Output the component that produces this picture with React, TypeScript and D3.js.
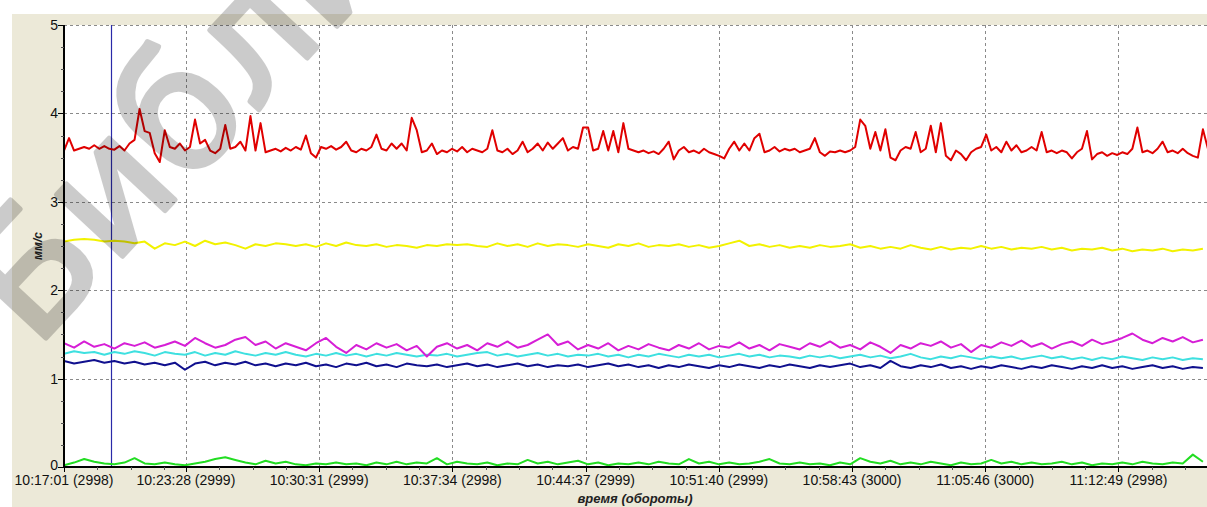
import { useMemo } from "react";
import * as d3 from "d3";

const WIDTH = 1207;
const HEIGHT = 507;
const M = { left: 64, top: 25, right: 0, bottom: 40 };

const START_TIME = "10:17:01";
const END_TIME = "11:17:30";
const CURSOR_TIME = "10:19:30";
const RED_STEP = 16; // seconds between samples
const STEP = 32;

const tickTimes = ["10:17:01", "10:23:28", "10:30:31", "10:37:34", "10:44:37", "10:51:40", "10:58:43", "11:05:46", "11:12:49"];
const tickRevs = [2998, 2999, 2999, 2998, 2999, 2999, 3000, 3000, 2998];
const yTicks = [0, 1, 2, 3, 4, 5];

const red = [
  3.58, 3.72, 3.58, 3.60, 3.62, 3.60, 3.64, 3.60, 3.63, 3.60, 3.59, 3.63, 3.58, 3.66, 3.70, 4.05, 3.80, 3.78, 3.55, 3.45,
  3.81, 3.62, 3.60, 3.66, 3.58, 3.62, 3.93, 3.66, 3.70, 3.58, 3.55, 3.60, 3.87, 3.60, 3.62, 3.68, 3.58, 3.97, 3.58, 3.89,
  3.56, 3.58, 3.60, 3.57, 3.61, 3.58, 3.62, 3.59, 3.75, 3.55, 3.50, 3.62, 3.60, 3.63, 3.59, 3.62, 3.68, 3.58, 3.56, 3.60,
  3.58, 3.62, 3.76, 3.60, 3.58, 3.66, 3.60, 3.66, 3.58, 3.95, 3.81, 3.56, 3.58, 3.66, 3.54, 3.58, 3.56, 3.60, 3.57, 3.62,
  3.56, 3.60, 3.58, 3.56, 3.60, 3.81, 3.58, 3.56, 3.60, 3.54, 3.58, 3.68, 3.56, 3.60, 3.66, 3.58, 3.67, 3.60, 3.66, 3.72,
  3.58, 3.62, 3.60, 3.84, 3.84, 3.58, 3.60, 3.80, 3.58, 3.80, 3.56, 3.89, 3.60, 3.58, 3.56, 3.58, 3.55, 3.57, 3.54, 3.60,
  3.68, 3.48, 3.58, 3.62, 3.56, 3.58, 3.55, 3.60, 3.56, 3.54, 3.52, 3.49, 3.60, 3.68, 3.58, 3.66, 3.58, 3.72, 3.77, 3.56,
  3.58, 3.62, 3.57, 3.60, 3.58, 3.60, 3.56, 3.58, 3.60, 3.72, 3.56, 3.52, 3.57, 3.56, 3.58, 3.56, 3.58, 3.62, 3.93, 3.86,
  3.60, 3.79, 3.58, 3.82, 3.50, 3.47, 3.58, 3.62, 3.60, 3.79, 3.56, 3.60, 3.86, 3.56, 3.89, 3.52, 3.47, 3.58, 3.54, 3.47,
  3.56, 3.60, 3.62, 3.76, 3.58, 3.62, 3.56, 3.68, 3.58, 3.64, 3.56, 3.58, 3.62, 3.58, 3.79, 3.56, 3.58, 3.55, 3.58, 3.56,
  3.49, 3.56, 3.60, 3.80, 3.48, 3.54, 3.56, 3.52, 3.55, 3.53, 3.56, 3.54, 3.60, 3.84, 3.56, 3.58, 3.55, 3.60, 3.68, 3.56,
  3.58, 3.55, 3.60, 3.55, 3.52, 3.50, 3.82, 3.60,
];

const yellow = [
  2.55, 2.57, 2.58, 2.57, 2.55, 2.56, 2.55, 2.53, 2.55, 2.47, 2.53, 2.51, 2.55, 2.50, 2.56, 2.52, 2.54, 2.51, 2.47, 2.52,
  2.50, 2.53, 2.52, 2.50, 2.52, 2.49, 2.53, 2.50, 2.54, 2.51, 2.50, 2.52, 2.49, 2.51, 2.50, 2.48, 2.51, 2.50, 2.52, 2.51,
  2.52, 2.50, 2.49, 2.53, 2.50, 2.52, 2.49, 2.53, 2.50, 2.52, 2.51, 2.49, 2.52, 2.50, 2.48, 2.52, 2.50, 2.53, 2.49, 2.51,
  2.50, 2.52, 2.49, 2.51, 2.48, 2.50, 2.53, 2.56, 2.50, 2.52, 2.49, 2.51, 2.48, 2.50, 2.48, 2.51, 2.49, 2.50, 2.52, 2.48,
  2.50, 2.47, 2.49, 2.47, 2.51, 2.48, 2.46, 2.49, 2.46, 2.48, 2.47, 2.50, 2.47, 2.49, 2.46, 2.48, 2.47, 2.49, 2.46, 2.48,
  2.45, 2.47, 2.46, 2.48, 2.45, 2.47, 2.44, 2.46, 2.45, 2.47, 2.44, 2.46, 2.45, 2.47,
];

const magenta = [
  1.40, 1.35, 1.42, 1.36, 1.39, 1.34, 1.40, 1.37, 1.41, 1.35, 1.38, 1.42, 1.37, 1.46, 1.40, 1.35, 1.38, 1.44, 1.47, 1.38,
  1.42, 1.34, 1.40, 1.36, 1.32, 1.40, 1.46, 1.36, 1.29, 1.38, 1.33, 1.40, 1.35, 1.39, 1.32, 1.37, 1.25, 1.36, 1.40, 1.34,
  1.38, 1.32, 1.40, 1.36, 1.42, 1.35, 1.38, 1.44, 1.50, 1.38, 1.42, 1.33, 1.38, 1.34, 1.40, 1.32, 1.37, 1.33, 1.39, 1.35,
  1.32, 1.38, 1.34, 1.40, 1.33, 1.37, 1.35, 1.41, 1.34, 1.38, 1.32, 1.39, 1.36, 1.33, 1.40, 1.36, 1.42, 1.35, 1.38, 1.33,
  1.41, 1.36, 1.29, 1.38, 1.34, 1.40, 1.37, 1.42, 1.35, 1.39, 1.30, 1.38, 1.35, 1.41, 1.37, 1.43, 1.36, 1.40, 1.34, 1.39,
  1.42, 1.37, 1.44, 1.39, 1.42, 1.46, 1.51, 1.44, 1.40, 1.46, 1.42, 1.47, 1.41, 1.44,
];

const cyan = [
  1.28, 1.31, 1.29, 1.30, 1.27, 1.30, 1.28, 1.31, 1.29, 1.26, 1.30, 1.28, 1.27, 1.30, 1.26, 1.29, 1.27, 1.31, 1.28, 1.26,
  1.29, 1.27, 1.30, 1.27, 1.25, 1.28, 1.26, 1.29, 1.26, 1.28, 1.25, 1.28, 1.26, 1.29, 1.27, 1.25, 1.27, 1.26, 1.28, 1.25,
  1.27, 1.29, 1.30, 1.26, 1.28, 1.25, 1.27, 1.29, 1.26, 1.28, 1.25, 1.27, 1.26, 1.28, 1.25, 1.27, 1.24, 1.27, 1.25, 1.28,
  1.26, 1.24, 1.27, 1.25, 1.27, 1.24, 1.26, 1.28, 1.25, 1.27, 1.24, 1.26, 1.25, 1.23, 1.26, 1.24, 1.26, 1.23, 1.25, 1.27,
  1.24, 1.26, 1.23, 1.25, 1.28, 1.24, 1.22, 1.25, 1.23, 1.26, 1.24, 1.22, 1.25, 1.23, 1.25, 1.22, 1.24, 1.26, 1.23, 1.25,
  1.22, 1.24, 1.21, 1.24, 1.22, 1.25, 1.23, 1.21, 1.24, 1.22, 1.24, 1.21, 1.23, 1.22,
];

const navy = [
  1.20, 1.17, 1.19, 1.21, 1.18, 1.20, 1.17, 1.19, 1.16, 1.18, 1.15, 1.18, 1.10, 1.17, 1.19, 1.15, 1.18, 1.16, 1.19, 1.15,
  1.17, 1.14, 1.17, 1.15, 1.18, 1.14, 1.16, 1.13, 1.17, 1.15, 1.18, 1.14, 1.16, 1.13, 1.17, 1.15, 1.14, 1.16, 1.13, 1.15,
  1.17, 1.14, 1.16, 1.13, 1.15, 1.17, 1.14, 1.16, 1.13, 1.15, 1.14, 1.16, 1.13, 1.15, 1.17, 1.14, 1.16, 1.13, 1.15, 1.12,
  1.15, 1.13, 1.16, 1.14, 1.12, 1.15, 1.13, 1.16, 1.14, 1.12, 1.15, 1.13, 1.16, 1.14, 1.12, 1.15, 1.13, 1.15, 1.17, 1.13,
  1.15, 1.12, 1.20, 1.14, 1.12, 1.15, 1.13, 1.16, 1.12, 1.14, 1.11, 1.14, 1.12, 1.15, 1.13, 1.11, 1.14, 1.12, 1.15, 1.13,
  1.11, 1.14, 1.12, 1.15, 1.12, 1.14, 1.11, 1.13, 1.15, 1.12, 1.14, 1.11, 1.13, 1.12,
];

const green = [
  0.02, 0.05, 0.09, 0.06, 0.04, 0.03, 0.05, 0.10, 0.04, 0.03, 0.05, 0.03, 0.02, 0.04, 0.06, 0.09, 0.11, 0.08, 0.05, 0.03,
  0.07, 0.04, 0.06, 0.03, 0.02, 0.04, 0.03, 0.05, 0.03, 0.04, 0.02, 0.05, 0.03, 0.06, 0.03, 0.05, 0.04, 0.10, 0.03, 0.06,
  0.04, 0.03, 0.05, 0.02, 0.04, 0.03, 0.08, 0.04, 0.06, 0.03, 0.05, 0.07, 0.03, 0.05, 0.02, 0.04, 0.03, 0.05, 0.03, 0.06,
  0.04, 0.03, 0.09, 0.04, 0.06, 0.03, 0.05, 0.03, 0.04, 0.06, 0.09, 0.04, 0.03, 0.05, 0.03, 0.04, 0.02, 0.05, 0.03, 0.10,
  0.06, 0.04, 0.07, 0.03, 0.05, 0.03, 0.06, 0.04, 0.02, 0.05, 0.03, 0.04, 0.08, 0.04, 0.06, 0.03, 0.05, 0.03, 0.04, 0.06,
  0.03, 0.05, 0.02, 0.04, 0.03, 0.05, 0.03, 0.06, 0.04, 0.03, 0.05, 0.04, 0.14, 0.06,
];

const toSec = (s: string) => {
  const [h, m, sec] = s.split(":").map(Number);
  return h * 3600 + m * 60 + sec;
};
const t0 = toSec(START_TIME);

const App = () => {
  const plotW = WIDTH - M.left - M.right;
  const x = d3.scaleLinear().domain([0, toSec(END_TIME) - t0]).range([M.left, M.left + plotW]);
  const y = d3.scaleLinear().domain([0, 5]).range([467, M.top]);

  const majorX = tickTimes.map((t) => toSec(t) - t0);
  const minorX = useMemo(() => {
    const res: number[] = [];
    const d = majorX[2] - majorX[1];
    for (let k = 0; k < majorX.length; k++) {
      for (let q = 1; q < 4; q++) res.push(majorX[k] + (d * q) / 4);
    }
    return res.filter((v) => x(v) < WIDTH);
  }, []);
  const minorY = d3.range(0, 5, 0.25).filter((v) => v % 1 !== 0);

  const line = (step: number) =>
    d3
      .line<number>()
      .x((_, i) => x(i * step))
      .y((d) => y(d));

  const series = [
    { data: green, color: "#22dd22", step: STEP },
    { data: navy, color: "#10108e", step: STEP },
    { data: cyan, color: "#3ee0e0", step: STEP },
    { data: magenta, color: "#d61ed6", step: STEP },
    { data: yellow, color: "#f2f200", step: STEP },
    { data: red, color: "#e00000", step: RED_STEP },
  ];

  const cursorX = x(toSec(CURSOR_TIME) - t0);

  return (
    <svg width={WIDTH} height={HEIGHT} style={{ position: "absolute", left: 0, top: 0 }} fontFamily="'Liberation Sans', Arial, sans-serif">
      <rect x={0} y={0} width={WIDTH} height={HEIGHT} fill="#fff" />
      <rect x={12} y={14} width={WIDTH - 12} height={HEIGHT - 14} fill="#ece9d8" />
      <rect x={M.left} y={M.top} width={plotW} height={y(0) - M.top} fill="#fff" />
      <defs>
        <clipPath id="plot">
          <rect x={M.left} y={M.top - 2} width={plotW} height={y(0) - M.top + 2} />
        </clipPath>
      </defs>

      {/* grid */}
      <g stroke="#8a8a8a" strokeDasharray="3,3" strokeWidth={1}>
        {yTicks.filter((v) => v > 0).map((v) => (
          <line key={v} x1={M.left} x2={WIDTH} y1={Math.round(y(v)) + 0.5} y2={Math.round(y(v)) + 0.5} />
        ))}
        {majorX.slice(1).map((v) => (
          <line key={v} x1={Math.round(x(v)) + 0.5} x2={Math.round(x(v)) + 0.5} y1={M.top} y2={y(0)} />
        ))}
      </g>

      {/* cursor */}
      <line x1={Math.round(cursorX) + 0.5} x2={Math.round(cursorX) + 0.5} y1={M.top} y2={y(0)} stroke="#2a2aa8" strokeWidth={1.2} />

      <g clipPath="url(#plot)" fill="none" strokeLinejoin="round">
        {series.map((s, i) => (
          <path key={i} d={line(s.step)(s.data) as string} stroke={s.color} strokeWidth={2} />
        ))}
      </g>

      {/* axes */}
      <g stroke="#000">
        <line x1={M.left} x2={M.left} y1={M.top} y2={y(0) + 1} strokeWidth={2} />
        <line x1={M.left - 1} x2={WIDTH} y1={y(0)} y2={y(0)} strokeWidth={2} />
        {yTicks.map((v) => (
          <line key={v} x1={M.left - 6} x2={M.left} y1={Math.round(y(v)) + 0.5} y2={Math.round(y(v)) + 0.5} strokeWidth={1} />
        ))}
        {minorY.map((v) => (
          <line key={v} x1={M.left - 3} x2={M.left} y1={Math.round(y(v)) + 0.5} y2={Math.round(y(v)) + 0.5} strokeWidth={1} stroke="#555" />
        ))}
        {majorX.map((v) => (
          <line key={v} x1={Math.round(x(v)) + 0.5} x2={Math.round(x(v)) + 0.5} y1={y(0)} y2={y(0) + 5} strokeWidth={1} />
        ))}
        {minorX.map((v) => (
          <line key={v} x1={Math.round(x(v)) + 0.5} x2={Math.round(x(v)) + 0.5} y1={y(0)} y2={y(0) + 3} strokeWidth={1} stroke="#555" />
        ))}
      </g>

      {/* labels */}
      <g fontSize={14} fill="#111">
        {yTicks.map((v) => (
          <text key={v} x={M.left - 6} y={y(v) + (v === 0 ? 3 : 5)} textAnchor="end">
            {v}
          </text>
        ))}
        {majorX.map((v, i) => (
          <text key={v} x={x(v)} y={485} textAnchor="middle">
            {`${tickTimes[i]} (${tickRevs[i]})`}
          </text>
        ))}
      </g>
      <text x={635} y={503} textAnchor="middle" fontSize={13} fontStyle="italic" fontWeight="bold" fill="#222">
        время (обороты)
      </text>
      <text transform={`translate(42, 246) rotate(-90)`} textAnchor="middle" fontSize={12} fontStyle="italic" fontWeight="bold" fill="#222">
        мм/с
      </text>

      {/* watermark */}
      <g opacity={0.2}>
        <text
          transform="translate(35, 350) rotate(-47)"
          fontSize={165}
          fontFamily="'DejaVu Sans', sans-serif"
          fill="#000"
          stroke="#000"
          strokeWidth={5}
          strokeLinejoin="round"
        >
          Библиотека
        </text>
      </g>
    </svg>
  );
};

export default App;
